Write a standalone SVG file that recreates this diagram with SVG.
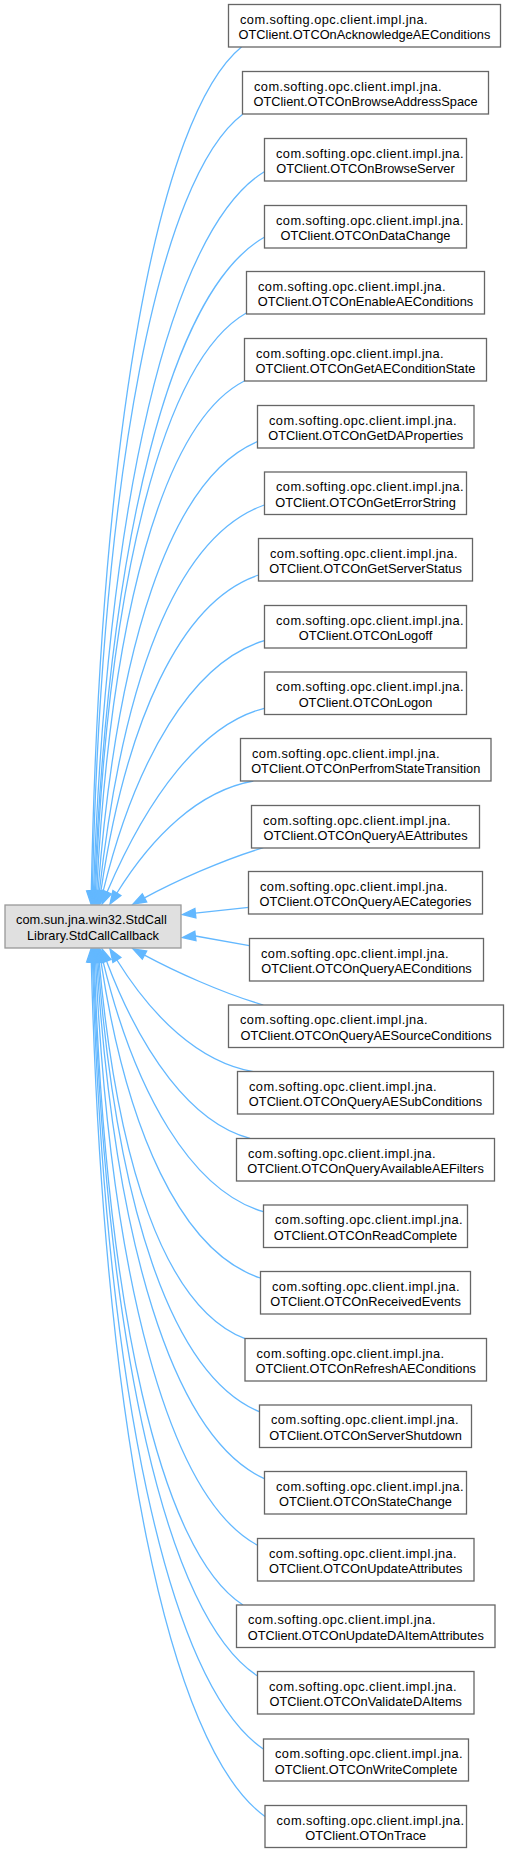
<svg xmlns="http://www.w3.org/2000/svg" width="508" height="1853" viewBox="0 0 508 1853">
<style>
.n rect{fill:#ffffff;stroke:#666666;stroke-width:1.3}
.c rect{fill:#e0e0e0;stroke:#999999;stroke-width:1.3}
text{font-family:"Liberation Sans",Arial,sans-serif;font-size:12.8px;fill:#000000}
.l1{letter-spacing:0.43px}
.m{text-anchor:middle}
#edges path{fill:none;stroke:#63b8ff;stroke-width:1.3}
#edges polygon{fill:#63b8ff;stroke:#63b8ff;stroke-width:1.3}
</style>
<rect width="508" height="1853" fill="#ffffff"/>
<g id="edges">
<path d="M241.7,46.7 C157.7,115.3 100.5,432.5 91.3,891"/><polygon points="91,904 96,891.1 86.6,890.9"/>
<path d="M242.7,114.3 C159,177.5 102.3,469.7 92.3,891"/><polygon points="92,904 97,891.1 87.6,890.9"/>
<path d="M264.3,171.7 C169.5,230.3 107.2,501.2 93.5,891"/><polygon points="93,904 98.2,891.2 88.8,890.8"/>
<path d="M264.3,237.3 C170.4,290.6 109.3,537.3 94.5,891"/><polygon points="94,904 99.2,891.2 89.8,890.8"/>
<path d="M246.7,312.7 C163.3,360 108.6,578.8 95.5,891"/><polygon points="95,904 100.2,891.2 90.8,890.8"/>
<path d="M244.3,381 C162.7,422.8 110.7,616.4 96.7,891"/><polygon points="96,904 101.4,891.2 92,890.8"/>
<path d="M257.3,441.7 C169.1,478.7 116.5,649.7 98,891"/><polygon points="97,904 102.7,891.4 93.3,890.6"/>
<path d="M264.3,505 C174.5,536.9 122.3,684.6 99.4,891.1"/><polygon points="98,904 104.1,891.6 94.7,890.6"/>
<path d="M258.7,575 C179.6,601.3 125.9,723 100.9,891.1"/><polygon points="99,904 105.5,891.8 96.3,890.4"/>
<path d="M264.3,640.7 C192.4,661.8 135.4,759.2 103.1,891.4"/><polygon points="100,904 107.7,892.5 98.5,890.3"/>
<path d="M264.3,708.3 C201.8,724 148,796.3 107.1,892"/><polygon points="102,904 111.4,893.9 102.8,890.2"/>
<path d="M253.3,781 C198.6,790.8 152.1,836.4 116.9,893"/><polygon points="110,904 120.9,895.5 112.9,890.5"/>
<path d="M263.3,847.7 C222,860 174,882 144.5,897.9"/><polygon points="133,904 146.7,902 142.3,893.8"/>
<path d="M248.7,907.3 L195.4,913.1"/><polygon points="182.5,914.5 195.9,917.8 194.9,908.4"/>
<path d="M249.3,945.7 L195.4,936"/><polygon points="182.5,937.5 196,940.7 194.8,931.3"/>
<path d="M263.3,1005 C222,993 174,971 144.5,955.1"/><polygon points="133,949 146.7,951 142.3,959.2"/>
<path d="M253.3,1071.7 C198.6,1062.2 152.1,1016.6 116.9,960"/><polygon points="110,949 120.9,957.5 112.9,962.5"/>
<path d="M250,1138.3 C191.6,1123.2 141.4,1053.1 106.6,961.2"/><polygon points="102,949 111,959.5 102.2,962.9"/>
<path d="M263.3,1211.7 C191.6,1190.7 135.1,1093.5 103.1,961.6"/><polygon points="100,949 107.7,960.5 98.5,962.7"/>
<path d="M260.3,1278 C180.7,1251.7 126.5,1130 101,961.9"/><polygon points="99,949 105.7,961.2 96.4,962.6"/>
<path d="M245,1338.7 C164.1,1307.5 117.4,1163.3 99.2,961.9"/><polygon points="98,949 103.9,961.5 94.5,962.3"/>
<path d="M259.3,1411.7 C170,1374.7 116.9,1203.5 98,962"/><polygon points="97,949 102.7,961.6 93.3,962.4"/>
<path d="M264.3,1478.7 C171.7,1436.3 114.7,1240.3 96.8,962"/><polygon points="96,949 101.5,961.7 92.1,962.3"/>
<path d="M257.7,1545.3 C168.2,1497.6 110.5,1277 95.6,962"/><polygon points="95,949 100.3,961.8 90.9,962.2"/>
<path d="M243,1605 C160.8,1552.5 105.9,1309.8 94.4,962"/><polygon points="94,949 99.1,961.8 89.7,962.2"/>
<path d="M257.7,1676 C166.6,1617.8 106.2,1348.8 93.4,962"/><polygon points="93,949 98.1,961.8 88.7,962.2"/>
<path d="M263.3,1749 C168.3,1685 105.1,1389 92.5,962"/><polygon points="92,949 97.2,961.8 87.8,962.2"/>
<path d="M265,1816.5 C168.2,1747.1 103.5,1426.1 91.3,962"/><polygon points="91,949 96,961.9 86.6,962.1"/>
</g>
<g id="node_center" class="c"><rect x="5" y="905" width="176" height="43"/><text x="16" y="924.3">com.sun.jna.win32.StdCall</text><text class="m" x="93" y="939.5">Library.StdCallCallback</text></g>
<g id="node0" class="n"><rect x="228.5" y="4.5" width="272" height="42.5"/><text class="l1" x="240" y="23.8">com.softing.opc.client.impl.jna.</text><text class="m" x="364.5" y="39">OTClient.OTCOnAcknowledgeAEConditions</text></g>
<g id="node1" class="n"><rect x="242.5" y="71.5" width="246" height="42.5"/><text class="l1" x="254" y="90.8">com.softing.opc.client.impl.jna.</text><text class="m" x="365.5" y="106">OTClient.OTCOnBrowseAddressSpace</text></g>
<g id="node2" class="n"><rect x="264.5" y="138.5" width="202" height="42.5"/><text class="l1" x="276" y="157.8">com.softing.opc.client.impl.jna.</text><text class="m" x="365.5" y="173">OTClient.OTCOnBrowseServer</text></g>
<g id="node3" class="n"><rect x="264.5" y="205.5" width="202" height="42.5"/><text class="l1" x="276" y="224.8">com.softing.opc.client.impl.jna.</text><text class="m" x="365.5" y="240">OTClient.OTCOnDataChange</text></g>
<g id="node4" class="n"><rect x="246.5" y="271.5" width="238" height="42.5"/><text class="l1" x="258" y="290.8">com.softing.opc.client.impl.jna.</text><text class="m" x="365.5" y="306">OTClient.OTCOnEnableAEConditions</text></g>
<g id="node5" class="n"><rect x="244.5" y="338.5" width="242" height="42.5"/><text class="l1" x="256" y="357.8">com.softing.opc.client.impl.jna.</text><text class="m" x="365.5" y="373">OTClient.OTCOnGetAEConditionState</text></g>
<g id="node6" class="n"><rect x="257.5" y="405.5" width="216.5" height="42.5"/><text class="l1" x="269" y="424.8">com.softing.opc.client.impl.jna.</text><text class="m" x="365.75" y="440">OTClient.OTCOnGetDAProperties</text></g>
<g id="node7" class="n"><rect x="264.5" y="472" width="202" height="42.5"/><text class="l1" x="276" y="491.3">com.softing.opc.client.impl.jna.</text><text class="m" x="365.5" y="506.5">OTClient.OTCOnGetErrorString</text></g>
<g id="node8" class="n"><rect x="258.5" y="538.5" width="214" height="42.5"/><text class="l1" x="270" y="557.8">com.softing.opc.client.impl.jna.</text><text class="m" x="365.5" y="573">OTClient.OTCOnGetServerStatus</text></g>
<g id="node9" class="n"><rect x="264.5" y="605.5" width="202" height="42.5"/><text class="l1" x="276" y="624.8">com.softing.opc.client.impl.jna.</text><text class="m" x="365.5" y="640">OTClient.OTCOnLogoff</text></g>
<g id="node10" class="n"><rect x="264.5" y="672" width="202" height="42.5"/><text class="l1" x="276" y="691.3">com.softing.opc.client.impl.jna.</text><text class="m" x="365.5" y="706.5">OTClient.OTCOnLogon</text></g>
<g id="node11" class="n"><rect x="240.5" y="738.5" width="250.5" height="42.5"/><text class="l1" x="252" y="757.8">com.softing.opc.client.impl.jna.</text><text class="m" x="365.75" y="773">OTClient.OTCOnPerfromStateTransition</text></g>
<g id="node12" class="n"><rect x="251.5" y="805.5" width="228" height="42.5"/><text class="l1" x="263" y="824.8">com.softing.opc.client.impl.jna.</text><text class="m" x="365.5" y="840">OTClient.OTCOnQueryAEAttributes</text></g>
<g id="node13" class="n"><rect x="248.5" y="871.5" width="234" height="42.5"/><text class="l1" x="260" y="890.8">com.softing.opc.client.impl.jna.</text><text class="m" x="365.5" y="906">OTClient.OTCOnQueryAECategories</text></g>
<g id="node14" class="n"><rect x="249.5" y="938.5" width="234" height="42.5"/><text class="l1" x="261" y="957.8">com.softing.opc.client.impl.jna.</text><text class="m" x="366.5" y="973">OTClient.OTCOnQueryAEConditions</text></g>
<g id="node15" class="n"><rect x="228.5" y="1005" width="275" height="42.5"/><text class="l1" x="240" y="1024.3">com.softing.opc.client.impl.jna.</text><text class="m" x="366" y="1039.5">OTClient.OTCOnQueryAESourceConditions</text></g>
<g id="node16" class="n"><rect x="237.5" y="1071.5" width="256" height="42.5"/><text class="l1" x="249" y="1090.8">com.softing.opc.client.impl.jna.</text><text class="m" x="365.5" y="1106">OTClient.OTCOnQueryAESubConditions</text></g>
<g id="node17" class="n"><rect x="236.5" y="1138.5" width="258" height="42.5"/><text class="l1" x="248" y="1157.8">com.softing.opc.client.impl.jna.</text><text class="m" x="365.5" y="1173">OTClient.OTCOnQueryAvailableAEFilters</text></g>
<g id="node18" class="n"><rect x="263.5" y="1205" width="204" height="42.5"/><text class="l1" x="275" y="1224.3">com.softing.opc.client.impl.jna.</text><text class="m" x="365.5" y="1239.5">OTClient.OTCOnReadComplete</text></g>
<g id="node19" class="n"><rect x="260.5" y="1271.5" width="210" height="42.5"/><text class="l1" x="272" y="1290.8">com.softing.opc.client.impl.jna.</text><text class="m" x="365.5" y="1306">OTClient.OTCOnReceivedEvents</text></g>
<g id="node20" class="n"><rect x="245" y="1338.5" width="241.5" height="42.5"/><text class="l1" x="256.5" y="1357.8">com.softing.opc.client.impl.jna.</text><text class="m" x="365.75" y="1373">OTClient.OTCOnRefreshAEConditions</text></g>
<g id="node21" class="n"><rect x="259.5" y="1405" width="212" height="42.5"/><text class="l1" x="271" y="1424.3">com.softing.opc.client.impl.jna.</text><text class="m" x="365.5" y="1439.5">OTClient.OTCOnServerShutdown</text></g>
<g id="node22" class="n"><rect x="264.5" y="1471.5" width="202" height="42.5"/><text class="l1" x="276" y="1490.8">com.softing.opc.client.impl.jna.</text><text class="m" x="365.5" y="1506">OTClient.OTCOnStateChange</text></g>
<g id="node23" class="n"><rect x="257.5" y="1538.5" width="216.5" height="42.5"/><text class="l1" x="269" y="1557.8">com.softing.opc.client.impl.jna.</text><text class="m" x="365.75" y="1573">OTClient.OTCOnUpdateAttributes</text></g>
<g id="node24" class="n"><rect x="236.5" y="1605" width="258.5" height="42.5"/><text class="l1" x="248" y="1624.3">com.softing.opc.client.impl.jna.</text><text class="m" x="365.75" y="1639.5">OTClient.OTCOnUpdateDAItemAttributes</text></g>
<g id="node25" class="n"><rect x="257.5" y="1671.5" width="216.5" height="42.5"/><text class="l1" x="269" y="1690.8">com.softing.opc.client.impl.jna.</text><text class="m" x="365.75" y="1706">OTClient.OTCOnValidateDAItems</text></g>
<g id="node26" class="n"><rect x="263.5" y="1739" width="205" height="42"/><text class="l1" x="275" y="1758.3">com.softing.opc.client.impl.jna.</text><text class="m" x="366" y="1773.5">OTClient.OTCOnWriteComplete</text></g>
<g id="node27" class="n"><rect x="265" y="1805.5" width="201.5" height="42"/><text class="l1" x="276.5" y="1824.8">com.softing.opc.client.impl.jna.</text><text class="m" x="365.75" y="1840">OTClient.OTOnTrace</text></g>
</svg>
